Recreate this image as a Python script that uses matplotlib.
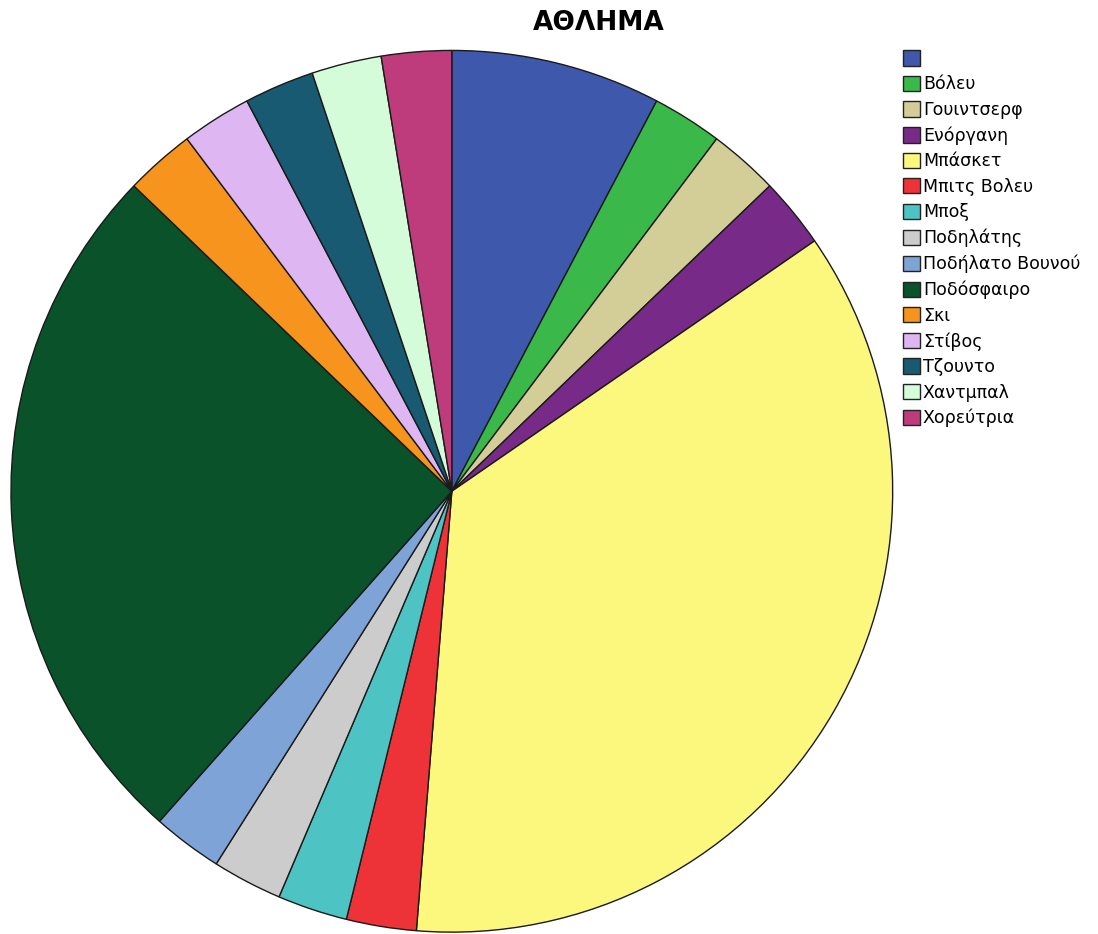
import matplotlib
matplotlib.use("Agg")
import matplotlib.pyplot as plt
from matplotlib.patches import Patch

plt.rcParams["font.family"] = ["DejaVu Sans"]

# sport categories (first one has no label in the data) and counts
sports = [
    "",
    "Βόλευ",
    "Γουιντσερφ",
    "Ενόργανη",
    "Μπάσκετ",
    "Μπιτς Βολευ",
    "Μποξ",
    "Ποδηλάτης",
    "Ποδήλατο Βουνού",
    "Ποδόσφαιρο",
    "Σκι",
    "Στίβος",
    "Τζουντο",
    "Χαντμπαλ",
    "Χορεύτρια",
]
counts = [3, 1, 1, 1, 14, 1, 1, 1, 1, 10, 1, 1, 1, 1, 1]
colors = [
    "#3E58AC", "#3BB84A", "#D3CE97", "#782A88", "#FCF87E",
    "#EE3338", "#4DC3C3", "#CCCCCC", "#7EA3D6", "#0A522A",
    "#F7941D", "#DDB6F2", "#175A72", "#D4FCD8", "#BE3C7C",
]

fig = plt.figure(figsize=(10.98, 9.34), dpi=100)
ax = fig.add_axes([0.010, 0.002, 0.803, 0.944])
ax.pie(
    counts,
    colors=colors,
    startangle=90,
    counterclock=False,
    radius=1.0,
    wedgeprops=dict(edgecolor="#1a1a1a", linewidth=1.0),
)
ax.set_xlim(-1.0, 1.0)
ax.set_ylim(-1.0, 1.0)
ax.set_aspect("equal")
ax.axis("off")

fig.text(0.545, 0.975, "ΑΘΛΗΜΑ", ha="center", va="center",
         fontsize=19, fontweight="bold")

handles = [Patch(facecolor=c, edgecolor="#222222", linewidth=1.0) for c in colors]
fig.legend(
    handles,
    sports,
    loc="upper left",
    bbox_to_anchor=(0.8224, 0.9465),
    frameon=False,
    fontsize=12.5,
    handlelength=0.98,
    handleheight=0.98,
    handletextpad=0.17,
    labelspacing=0.43,
    borderpad=0.0,
    borderaxespad=0.0,
)

fig.savefig("out.png", dpi=100)
